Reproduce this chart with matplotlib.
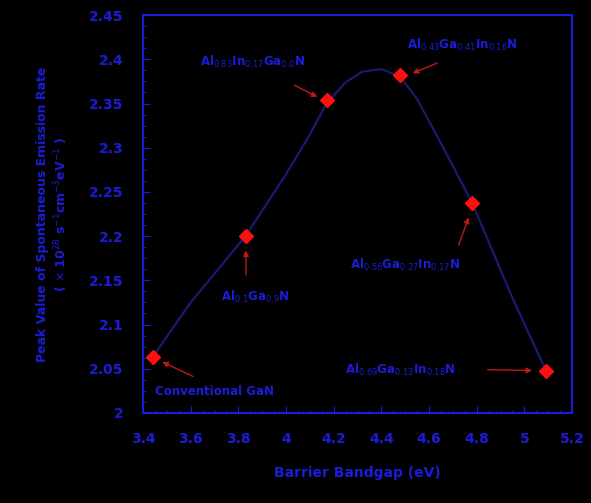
import matplotlib
matplotlib.use("Agg")
import matplotlib.pyplot as plt
from matplotlib.ticker import MultipleLocator

# measured points (barrier bandgap vs peak spontaneous emission rate)
bandgap = [3.44, 3.83, 4.17, 4.48, 4.78, 5.09]
peak_rate = [2.063, 2.200, 2.354, 2.382, 2.238, 2.048]

# fitted trend line
curve_x = [3.44, 3.60, 3.83, 4.00, 4.10, 4.17, 4.25, 4.32, 4.40, 4.48, 4.55, 4.65, 4.78, 4.95, 5.09]
curve_y = [2.063, 2.125, 2.200, 2.270, 2.315, 2.350, 2.374, 2.386, 2.389, 2.380, 2.355, 2.305, 2.238, 2.130, 2.048]

# label text, label position, arrow tail, arrow head
labels = [
    ("Conventional GaN", (3.45, 2.024), (3.62, 2.040), (3.47, 2.059), "left"),
    (r"Al$_{0.1}$Ga$_{0.9}$N", (3.87, 2.131), (3.832, 2.153), (3.832, 2.187), "center"),
    (r"Al$_{0.83}$In$_{0.17}$Ga$_{0.0}$N", (3.86, 2.397), (4.025, 2.372), (4.142, 2.356), "center"),
    (r"Al$_{0.43}$Ga$_{0.41}$In$_{0.16}$N", (4.74, 2.416), (4.645, 2.397), (4.52, 2.383), "center"),
    (r"Al$_{0.56}$Ga$_{0.27}$In$_{0.17}$N", (4.50, 2.167), (4.72, 2.187), (4.77, 2.224), "center"),
    (r"Al$_{0.69}$Ga$_{0.13}$In$_{0.18}$N", (4.48, 2.049), (4.834, 2.049), (5.044, 2.048), "center"),
]

blue = "#1c1cd8"
navy = "#1a1a70"

fig = plt.figure(figsize=(5.91, 5.03), dpi=100, facecolor="black")
ax = fig.add_axes([0.242, 0.179, 0.726, 0.791], facecolor="black")

ax.plot(curve_x, curve_y, color=navy, lw=1.6, zorder=2)
ax.plot(bandgap, peak_rate, "D", color="#ff1010", ms=7, zorder=3)

for text, pos, tail, head, ha in labels:
    ax.annotate("", xy=head, xytext=tail,
                arrowprops=dict(arrowstyle="-|>", color="#c01818", lw=1.0, mutation_scale=8))
    ax.text(pos[0], pos[1], text, color=blue, fontsize=8.5, fontweight="bold",
            ha=ha, va="center")

ax.set_xlim(3.4, 5.2)
ax.set_ylim(2.0, 2.45)
ax.xaxis.set_major_locator(MultipleLocator(0.2))
ax.yaxis.set_major_locator(MultipleLocator(0.05))
ax.xaxis.set_minor_locator(MultipleLocator(0.05))
ax.yaxis.set_minor_locator(MultipleLocator(0.0125))
ax.set_xticklabels([f"{v:g}" for v in ax.get_xticks()])
ax.set_yticklabels([f"{v:g}" for v in ax.get_yticks()])

for s in ax.spines.values():
    s.set_color(blue)
    s.set_linewidth(1.5)
ax.tick_params(which="both", direction="in", colors=blue, top=False, right=False)
ax.tick_params(which="major", length=5, labelsize=10)
ax.tick_params(which="minor", length=2.5)
ax.tick_params(axis="x", which="major", pad=14)
ax.tick_params(axis="y", which="major", pad=14)
for lbl in ax.get_xticklabels() + ax.get_yticklabels():
    lbl.set_fontweight("bold")
    lbl.set_color(blue)

ax.set_xlabel("Barrier Bandgap (eV)", color=blue, fontsize=10, fontweight="bold", labelpad=14)
ax.set_ylabel("Peak Value of Spontaneous Emission Rate\n"
              r"( $\times$ 10$^{28}$ s$^{-1}$cm$^{-3}$eV$^{-1}$ )",
              color=blue, fontsize=9, fontweight="bold", labelpad=14)

fig.savefig("out.png", dpi=100, facecolor="black")
